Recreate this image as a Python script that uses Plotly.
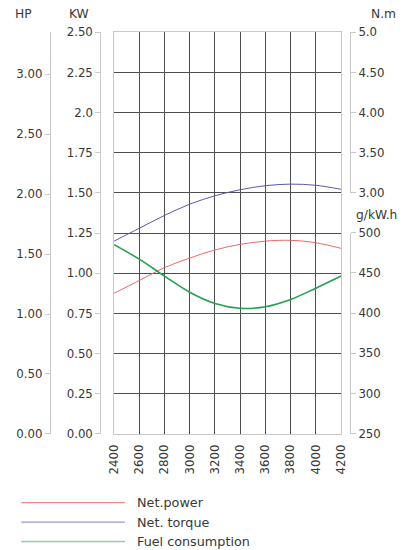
import plotly.graph_objects as go

# ---- data ----
rpm = [2400, 2600, 2800, 3000, 3200, 3400, 3600, 3800, 4000, 4200]
net_power_kw = [0.875, 0.955, 1.035, 1.095, 1.145, 1.18, 1.20, 1.205, 1.19, 1.155]
net_torque_nm = [2.40, 2.56, 2.72, 2.86, 2.965, 3.04, 3.09, 3.11, 3.095, 3.045]
fuel_g_kwh = [485, 467, 446, 426, 412, 406, 408, 417, 431, 446]

kw_ticks = [0, 0.25, 0.5, 0.75, 1.0, 1.25, 1.5, 1.75, 2.0, 2.25, 2.5]
kw_labels = ["0.00", "0.25", "0.50", "0.75", "1.00", "1.25", "1.50", "1.75", "2.0", "2.25", "2.50"]
hp_ticks = [0, 0.5, 1.0, 1.5, 2.0, 2.5, 3.0]
hp_labels = ["0.00", "0.50", "1.00", "1.50", "2.00", "2.50", "3.00"]
nm_ticks = [3.0, 3.5, 4.0, 4.5, 5.0]
nm_labels = ["3.00", "3.50", "4.00", "4.50", "5.0"]
g_ticks = [250, 300, 350, 400, 450, 500]
g_labels = ["250", "300", "350", "400", "450", "500"]

series_names = ["Net.power", "Net. torque", "Fuel consumption"]
series_colors = ["#e86a6a", "#5a5aaa", "#25a050"]
legend_colors = ["#f08a8a", "#9a9acc", "#8fd0a8"]

W, H = 408, 550
# the captured page is slightly scaled/offset; compensate so positions land where intended
S, OFF = 0.978, 5.6
def px(x): return ((x - OFF) / S) / W
def py(y): return 1 - ((y - OFF) / S) / H
def fs(s): return s / S

FONT = "DejaVu Sans, Verdana, sans-serif"
TXT = "#383838"
AXC = "#c8c8c8"
GRID = "#4e4e4e"

ydom = [py(434), py(31)]
xdom = [px(114), px(344)]

fig = go.Figure()
fig.add_trace(go.Scatter(x=rpm, y=net_power_kw, mode="lines", line=dict(color=series_colors[0], width=1, shape="spline"),
                         xaxis="x", yaxis="y", showlegend=False))
fig.add_trace(go.Scatter(x=rpm, y=net_torque_nm, mode="lines", line=dict(color=series_colors[1], width=1, shape="spline"),
                         xaxis="x", yaxis="y4", showlegend=False))
fig.add_trace(go.Scatter(x=rpm, y=fuel_g_kwh, mode="lines", line=dict(color=series_colors[2], width=1.6, shape="spline"),
                         xaxis="x2", yaxis="y5", showlegend=False))
# empty traces to make display-only axes render
fig.add_trace(go.Scatter(x=[], y=[], xaxis="x", yaxis="y2", showlegend=False))
fig.add_trace(go.Scatter(x=[], y=[], xaxis="x2", yaxis="y3", showlegend=False))

tickfont = dict(family=FONT, size=fs(11.5), color=TXT)

fig.update_layout(
    width=W, height=H,
    margin=dict(l=0, r=0, t=0, b=0),
    paper_bgcolor="white", plot_bgcolor="rgba(0,0,0,0)",
    xaxis=dict(domain=xdom, range=[2400, 4200], tickvals=rpm, ticktext=[str(r) for r in rpm],
               tickangle=-90, tickfont=tickfont, showgrid=True, gridcolor=GRID, gridwidth=1,
               showline=True, mirror=True, linecolor=AXC, linewidth=1, ticks="", zeroline=False,
               ticklabelstandoff=5, anchor="y"),
    xaxis2=dict(domain=xdom, range=[2400, 4200], overlaying="x", visible=False, anchor="y5"),
    yaxis=dict(domain=ydom, range=[0, 2.5], tickvals=kw_ticks, ticktext=kw_labels, tickfont=tickfont,
               anchor="free", position=px(100), showline=True, linecolor=AXC, linewidth=1,
               ticks="outside", ticklen=5, tickcolor=AXC, showgrid=True, gridcolor=GRID, zeroline=False),
    yaxis2=dict(overlaying="y", range=[0, 3.35], tickvals=hp_ticks, ticktext=hp_labels, tickfont=tickfont,
                anchor="free", position=px(49), side="left", showline=True, linecolor=AXC, linewidth=1,
                ticks="outside", ticklen=5, tickcolor=AXC, showgrid=False, zeroline=False),
    yaxis3=dict(domain=[py(192), py(31)], range=[3, 5], tickvals=nm_ticks, ticktext=nm_labels, tickfont=tickfont,
                anchor="free", position=px(353), side="right", showline=True, linecolor=AXC, linewidth=1,
                ticks="outside", ticklen=5, tickcolor=AXC, showgrid=False, zeroline=False),
    yaxis4=dict(overlaying="y", range=[0, 5], showticklabels=False, ticks="", showgrid=False, zeroline=False,
                anchor="x", showline=True, mirror=True, linecolor=AXC, linewidth=1),
    yaxis5=dict(domain=[py(434), py(232)], range=[250, 500], tickvals=g_ticks, ticktext=g_labels, tickfont=tickfont,
                anchor="free", position=px(353), side="right", showline=True, linecolor=AXC, linewidth=1,
                ticks="outside", ticklen=5, tickcolor=AXC, showgrid=False, zeroline=False),
)

# axis unit labels
for txt, x, y in [("HP", 22, 13), ("KW", 79, 13), ("N.m", 387, 13), ("g/kW.h", 380, 214)]:
    fig.add_annotation(text=txt, x=px(x), y=py(y), xref="paper", yref="paper", showarrow=False,
                       xanchor="center", yanchor="middle", font=dict(family=FONT, size=fs(12), color=TXT))

# legend (drawn manually to match long sample lines)
for i, (name, col) in enumerate(zip(series_names, legend_colors)):
    yy = py(503 + i * 19.5)
    fig.add_shape(type="line", xref="paper", yref="paper", x0=px(20), x1=px(125), y0=yy, y1=yy,
                  line=dict(color=col, width=1.3))
    fig.add_annotation(text=name, x=px(135), y=yy, xref="paper", yref="paper", showarrow=False,
                       xanchor="left", yanchor="middle", font=dict(family=FONT, size=fs(12.5), color=TXT))

fig.write_html("out.html", config={"displayModeBar": False},
               post_script="document.body.style.margin='0px';document.body.style.overflow='hidden';")
